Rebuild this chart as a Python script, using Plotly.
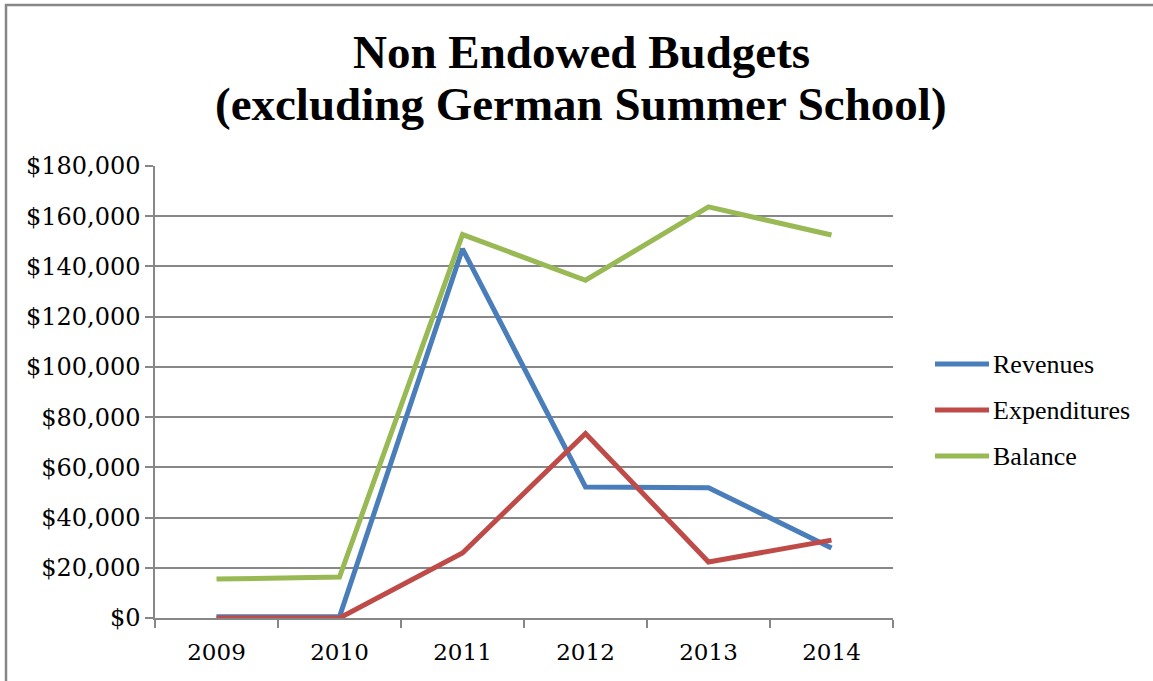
import plotly.graph_objects as go

# Fiscal years and budget figures (USD)
years = ["2009", "2010", "2011", "2012", "2013", "2014"]
revenues = [500, 500, 147000, 52200, 51900, 27900]
expenditures = [0, 0, 25900, 73500, 22300, 31000]
balance = [15500, 16300, 152700, 134500, 163700, 152500]

series_names = ["Revenues", "Expenditures", "Balance"]
series_values = [revenues, expenditures, balance]
series_colors = ["#4A7EBB", "#BE4B48", "#98B954"]

GRID = "#878787"
TITLE_FONT = "Liberation Serif"
TICK_FONT = "DejaVu Serif"

# plot-area geometry in pixels
L, R, T, B = 155, 893, 166, 618
W, H = R - L, B - T


def px_x(p):
    return (p - L) / W


def px_y(p):
    return (B - p) / H


fig = go.Figure()
for name, vals, col in zip(series_names, series_values, series_colors):
    fig.add_trace(go.Scatter(
        x=years, y=vals, name=name, mode="lines",
        line=dict(color=col, width=5),
        showlegend=False,
    ))

fig.update_layout(
    width=1153, height=681,
    margin=dict(l=L, r=1153 - R, t=T, b=681 - B),
    paper_bgcolor="white", plot_bgcolor="white",
    showlegend=False,
)

fig.update_xaxes(
    type="category", range=[-0.5, 5.5],
    tickson="boundaries", ticks="outside", ticklen=8, tickwidth=1.5, tickcolor=GRID,
    ticklabelstandoff=13,
    showline=True, linecolor=GRID, linewidth=1.5,
    showgrid=False, zeroline=False,
    tickfont=dict(family=TICK_FONT, size=23, color="black"),
)
fig.update_yaxes(
    range=[0, 180000], dtick=20000, tick0=0,
    tickprefix="$", tickformat=",d",
    ticks="outside", ticklen=8, tickwidth=1.5, tickcolor=GRID,
    showline=True, linecolor=GRID, linewidth=1.5,
    showgrid=True, gridcolor=GRID, gridwidth=1.5,
    zeroline=False,
    tickfont=dict(family=TICK_FONT, size=24, color="black"),
)

# Two-line chart title
for text, yc in [("Non Endowed Budgets", 52), ("(excluding German Summer School)", 104)]:
    fig.add_annotation(
        text=f"<b>{text}</b>", xref="paper", yref="paper",
        x=px_x(581), y=px_y(yc), xanchor="center", yanchor="middle",
        showarrow=False,
        font=dict(family=TITLE_FONT, size=47, color="black"),
    )

# Legend: line swatch + label for each series
for i, (name, col) in enumerate(zip(series_names, series_colors)):
    yc = 364 + 46 * i
    fig.add_shape(type="line", xref="paper", yref="paper",
                  x0=px_x(935), x1=px_x(989), y0=px_y(yc), y1=px_y(yc),
                  line=dict(color=col, width=5))
    fig.add_annotation(
        text=name, xref="paper", yref="paper",
        x=px_x(991), y=px_y(yc), xanchor="left", yanchor="middle",
        showarrow=False,
        font=dict(family=TITLE_FONT, size=26, color="black"),
    )

# Chart frame (top and left edges visible)
fig.add_shape(type="rect", xref="paper", yref="paper",
              x0=px_x(6), x1=px_x(1160), y0=px_y(690), y1=px_y(5),
              line=dict(color=GRID, width=2.5), layer="below")

fig.write_html("out.html")
